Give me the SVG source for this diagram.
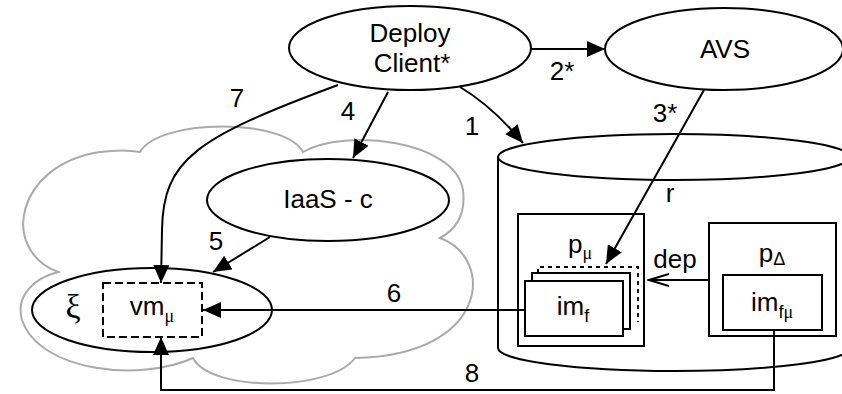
<svg xmlns="http://www.w3.org/2000/svg" width="842" height="394" viewBox="0 0 842 394">
<style>
  text { font-family: "Liberation Sans", Arial, sans-serif; font-size: 26px; fill: #000; }
  .sub { font-size: 18px; }
  .greek { font-family: "Liberation Serif", "Times New Roman", serif; }
  .big { font-size: 34px; }
  .n { fill: #fff; stroke: #000; stroke-width: 2; }
  .c { fill: none; stroke: #000; stroke-width: 2; }
  .arr { marker-end: url(#ah); }
  .cloud { fill: none; stroke: #aaa; stroke-width: 2; }
</style>
<defs>
  <marker id="ah" markerUnits="userSpaceOnUse" markerWidth="20" markerHeight="16" refX="18" refY="8" orient="auto">
    <path d="M0,0 L18,8 L0,16 Z" fill="#000"/>
  </marker>
  <marker id="open" markerUnits="userSpaceOnUse" markerWidth="22" markerHeight="16" refX="20" refY="8" orient="auto">
    <path d="M0,2 L20,8 L0,14" fill="none" stroke="#000" stroke-width="2"/>
  </marker>
</defs>
<rect width="842" height="394" fill="#fff"/>

<g id="cloud">
  <path class="cloud" d="M140,152 C160,118 285,118 303,152 C345,128 455,140 463,190 C466,215 455,230 440,238 C495,258 490,355 355,358 C330,392 210,392 193,358 C140,382 40,372 22,320 C15,295 35,278 58,272 C0,250 15,165 100,152 C115,150 130,150 140,152 Z"/>
</g>

<g id="repository">
  <path class="n" d="M498,157 L498,348 A176,23 0 0 0 850,348 L850,157 Z"/>
  <ellipse class="n" cx="674" cy="157" rx="176" ry="23"/>
  <text x="670" y="202" text-anchor="middle">r</text>
</g>

<g id="deploy-client">
  <ellipse class="n" cx="410" cy="48" rx="121" ry="42"/>
  <text x="410" y="42" text-anchor="middle">Deploy</text>
  <text x="412" y="72" text-anchor="middle">Client*</text>
</g>

<g id="avs">
  <ellipse class="n" cx="724" cy="49" rx="119" ry="41"/>
  <text x="725" y="58" text-anchor="middle">AVS</text>
</g>

<g id="iaas">
  <ellipse class="n" cx="328" cy="200" rx="121" ry="41"/>
  <text x="328" y="208" text-anchor="middle">IaaS - c</text>
</g>

<g id="xi">
  <ellipse class="n" cx="152" cy="310" rx="120" ry="42"/>
  <text class="greek big" x="73" y="318" text-anchor="middle">ξ</text>
</g>

<g id="vm">
  <rect x="103" y="283" width="99" height="54" fill="#fff" stroke="#000" stroke-width="2" stroke-dasharray="8,4"/>
  <text x="152" y="315" text-anchor="middle">vm<tspan class="sub greek" dy="7">μ</tspan></text>
</g>

<g id="p-mu">
  <rect class="n" x="518" y="214" width="126" height="132"/>
  <text x="580" y="253" text-anchor="middle">p<tspan class="sub greek" dy="6">μ</tspan></text>
  <path d="M538,273 L538,267 L638,267 L638,322" fill="none" stroke="#000" stroke-width="2" stroke-dasharray="4,4"/>
  <rect class="n" x="532" y="273" width="98" height="56"/>
  <rect class="n" x="525" y="281" width="98" height="55"/>
  <text x="573" y="315" text-anchor="middle">im<tspan class="sub" dy="7">f</tspan></text>
</g>

<g id="p-delta">
  <rect class="n" x="709" y="223" width="127" height="113"/>
  <text x="772" y="262" text-anchor="middle">p<tspan class="sub" dy="3">Δ</tspan></text>
  <rect class="n" x="723" y="275" width="99" height="55"/>
  <text x="772" y="311" text-anchor="middle">im<tspan class="sub" dy="7">f<tspan class="greek">μ</tspan></tspan></text>
</g>

<g id="connectors">
  <path class="c arr" d="M531,49 L605,49"/>
  <text x="562" y="80" text-anchor="middle">2*</text>
  <path class="c arr" d="M460,87 C482,100 502,118 523,143"/>
  <text x="472" y="135" text-anchor="middle">1</text>
  <path class="c arr" d="M704,90 L606,264"/>
  <text x="665" y="122" text-anchor="middle">3*</text>
  <path class="c arr" d="M338,85 C195,138 163,160 162,230 L161,283"/>
  <text x="237" y="107" text-anchor="middle">7</text>
  <path class="c arr" d="M388,92 L353,158"/>
  <text x="348" y="120" text-anchor="middle">4</text>
  <path class="c arr" d="M270,237 L213,272"/>
  <text x="216" y="250" text-anchor="middle">5</text>
  <path class="c arr" d="M525,310 L203,310"/>
  <text x="394" y="302" text-anchor="middle">6</text>
  <path class="c" d="M709,280 L649,280" marker-end="url(#open)"/>
  <text x="675" y="268" text-anchor="middle">dep</text>
  <path class="c arr" d="M774,330 L774,390 L161,390 L161,337"/>
  <text x="472" y="382" text-anchor="middle">8</text>
</g>
</svg>
